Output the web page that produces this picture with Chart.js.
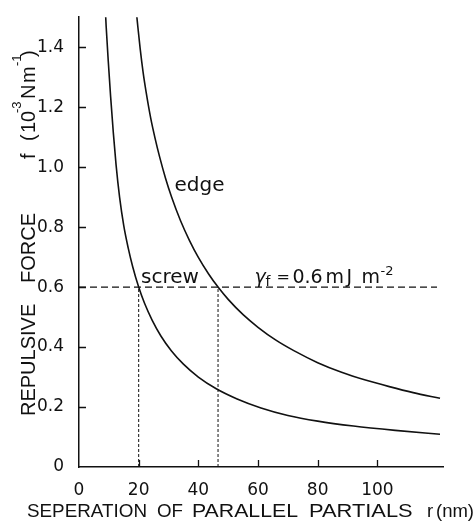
<!DOCTYPE html>
<html>
<head>
<meta charset="utf-8">
<script src="https://cdn.jsdelivr.net/npm/chart.js@4.4.1/dist/chart.umd.min.js"></script>
<style>
  html, body { margin: 0; padding: 0; background: #fff; }
  #wrap { width: 474px; height: 524px; }
</style>
</head>
<body>
<div id="wrap"><canvas id="chart"></canvas></div>
<script>
// values: separation r (nm) vs repulsive force f (10^-3 N/m)
const screwR = [8.9, 9.1, 9.8, 10.6, 11.5, 12.4, 13.6, 15, 16.5, 18, 20, 22, 24.5, 27.5, 31, 35, 40, 46, 53, 61, 70, 80, 92, 106, 121];
const screwF = [1.51, 1.47, 1.355, 1.235, 1.115, 1.01, 0.90, 0.805, 0.73, 0.668, 0.60, 0.545, 0.49, 0.436, 0.387, 0.343, 0.30, 0.261, 0.227, 0.197, 0.172, 0.153, 0.1365, 0.122, 0.109];

const edgeR = [19.3, 19.6, 20.5, 21.5, 22.5, 24, 25.5, 27, 29, 31, 34, 37, 40, 43.5, 46.6, 50, 55, 60, 66, 72, 80, 88, 96, 104, 112, 121];
const edgeF = [1.51, 1.48, 1.395, 1.315, 1.25, 1.165, 1.096, 1.035, 0.963, 0.901, 0.822, 0.756, 0.699, 0.643, 0.60, 0.559, 0.508, 0.466, 0.423, 0.388, 0.348, 0.316, 0.29, 0.268, 0.248, 0.229];

// gamma_f = 0.6 mJ m^-2 level and where each curve crosses it
const gammaLevel = 0.6;
const gammaEnd = 120;
const crossScrew = 20;
const crossEdge = 46.6;

const xTicks = [0, 20, 40, 60, 80, 100];
const yTicks = [0, 0.2, 0.4, 0.6, 0.8, 1.0, 1.2, 1.4];

const ink = '#111';
const FONT = '"DejaVu Sans", "Noto Sans", sans-serif';
const TFONT = '"Liberation Sans", Arial, sans-serif';

const pts = (xs, ys) => xs.map((v, i) => ({ x: v, y: ys[i] }));

// draw a word squeezed/stretched a little so it covers the same span as the print
function fitText(ctx, txt, x, y, w) {
  const m = ctx.measureText(txt).width;
  const k = Math.max(0.85, Math.min(1.15, w / m));
  ctx.save();
  ctx.translate(x, y);
  ctx.scale(k, 1);
  ctx.fillText(txt, 0, 0);
  ctx.restore();
}

// small inward tick marks, like the printed figure
const inwardTicks = {
  id: 'inwardTicks',
  afterDatasetsDraw(chart) {
    const { ctx, chartArea, scales } = chart;
    ctx.save();
    ctx.strokeStyle = ink;
    ctx.lineWidth = 1.3;
    ctx.beginPath();
    scales.x.ticks.forEach(t => {
      if (t.value === 0) return;
      const px = Math.round(scales.x.getPixelForValue(t.value)) + 0.5;
      ctx.moveTo(px, chartArea.bottom);
      ctx.lineTo(px, chartArea.bottom - 7);
    });
    scales.y.ticks.forEach(t => {
      if (t.value === 0) return;
      const py = Math.round(scales.y.getPixelForValue(t.value)) + 0.5;
      ctx.moveTo(chartArea.left, py);
      ctx.lineTo(chartArea.left + 7, py);
    });
    ctx.stroke();
    ctx.restore();
  }
};

// curve names and the gamma label
const notes = {
  id: 'notes',
  afterDatasetsDraw(chart) {
    const { ctx, scales: { x, y } } = chart;
    ctx.save();
    ctx.fillStyle = ink;
    ctx.textAlign = 'left';
    ctx.textBaseline = 'alphabetic';
    ctx.font = '20px ' + FONT;
    ctx.fillText('edge', x.getPixelForValue(32.0), y.getPixelForValue(0.92));
    ctx.fillText('screw', x.getPixelForValue(20.8), y.getPixelForValue(0.613));

    const gx = x.getPixelForValue(58.8);
    const gy = y.getPixelForValue(0.613);
    ctx.font = 'italic 19px ' + FONT;
    ctx.fillText('\u03b3', gx, gy);
    ctx.font = '14px ' + FONT;
    ctx.fillText('f', gx + 11, gy + 3);
    ctx.font = '16px ' + FONT;
    ctx.fillText('=', gx + 22, gy - 1);
    ctx.font = '19px ' + FONT;
    ctx.fillText('0.6', gx + 38, gy);
    ctx.fillText('m', gx + 71, gy);
    ctx.fillText('J', gx + 92, gy);
    ctx.fillText('m', gx + 107, gy);
    ctx.font = '13px ' + FONT;
    ctx.fillText('-2', gx + 126, gy - 8);
    ctx.restore();
  }
};

// axis titles, set word by word like the original lettering
const axisTitles = {
  id: 'axisTitles',
  afterDraw(chart) {
    const { ctx } = chart;
    ctx.save();
    ctx.fillStyle = ink;
    ctx.textAlign = 'left';
    ctx.textBaseline = 'alphabetic';

    ctx.font = '19px ' + TFONT;
    [['SEPERATION', 27, 120], ['OF', 157, 26], ['PARALLEL', 192, 106], ['PARTIALS', 309, 104]]
      .forEach(([w, px, span]) => fitText(ctx, w, px, 517, span));
    ctx.font = '18.5px ' + TFONT;
    ctx.fillText('r', 427, 517);
    ctx.fillText('(nm)', 436, 517);

    // rotated y title, reading upward; baseline at x = 35
    const piece = (txt, startY, size, lift) => {
      ctx.save();
      ctx.translate(35, startY);
      ctx.rotate(-Math.PI / 2);
      ctx.font = size + 'px ' + TFONT;
      ctx.fillText(txt, 0, -lift);
      ctx.restore();
    };
    piece('REPULSIVE', 416, 20, 0);
    piece('FORCE', 283, 20, 0);
    piece('f', 159, 20, 0);
    piece('(', 141, 20, 0);
    piece('10', 133, 20, 0);
    piece('-3', 113, 13, 14);
    piece('N', 99, 20, 0);
    piece('m', 83, 20, 0);
    piece('-1', 66, 13, 14);
    piece(')', 57, 20, 0);
    ctx.restore();
  }
};

new Chart(document.getElementById('chart'), {
  type: 'line',
  data: {
    datasets: [
      { label: 'screw', data: pts(screwR, screwF), borderColor: ink, borderWidth: 1.6,
        pointRadius: 0, cubicInterpolationMode: 'monotone' },
      { label: 'edge', data: pts(edgeR, edgeF), borderColor: ink, borderWidth: 1.6,
        pointRadius: 0, cubicInterpolationMode: 'monotone' },
      { label: 'gamma', data: [{ x: 0, y: gammaLevel }, { x: gammaEnd, y: gammaLevel }],
        borderColor: ink, borderWidth: 1.1, borderDash: [7, 4], pointRadius: 0 },
      { label: 'rScrew', data: [{ x: crossScrew, y: 0 }, { x: crossScrew, y: gammaLevel }],
        borderColor: ink, borderWidth: 1, borderDash: [3, 2], pointRadius: 0 },
      { label: 'rEdge', data: [{ x: crossEdge, y: 0 }, { x: crossEdge, y: gammaLevel }],
        borderColor: ink, borderWidth: 1, borderDash: [3, 2], pointRadius: 0 }
    ]
  },
  options: {
    responsive: true,
    maintainAspectRatio: false,
    animation: false,
    events: [],
    layout: { padding: { top: 9, right: 31, left: 0, bottom: 0 } },
    plugins: { legend: { display: false }, tooltip: { enabled: false } },
    scales: {
      x: {
        type: 'linear', min: 0, max: 122,
        afterBuildTicks: s => { s.ticks = xTicks.map(v => ({ value: v })); },
        afterFit: s => { s.height = 57; },
        grid: { display: false },
        border: { display: true, color: ink, width: 1.5 },
        ticks: { color: ink, padding: 5, maxRotation: 0, font: { family: FONT, size: 17 },
          callback: v => String(v) }
      },
      y: {
        type: 'linear', min: 0, max: 1.5,
        afterBuildTicks: s => { s.ticks = yTicks.map(v => ({ value: v })); },
        afterFit: s => { s.width = 79; },
        grid: { display: false },
        border: { display: true, color: ink, width: 1.5 },
        ticks: { color: ink, padding: 7, font: { family: FONT, size: 17 },
          callback: v => (v === 0 ? '0' : v.toFixed(1)) }
      }
    }
  },
  plugins: [inwardTicks, notes, axisTitles]
});
</script>
</body>
</html>
